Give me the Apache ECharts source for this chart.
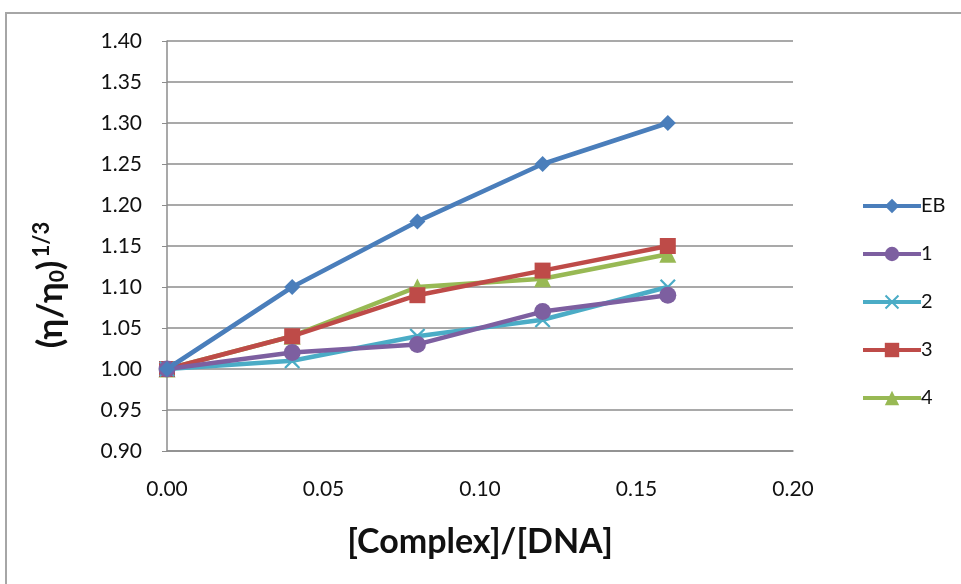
<!DOCTYPE html>
<html>
<head>
<meta charset="utf-8">
<script src="https://cdn.jsdelivr.net/npm/echarts@6/dist/echarts.min.js"></script>
<style>
  html, body { margin: 0; padding: 0; background: #fff; }
  #frame {
    position: absolute; left: 5px; top: 12px; width: 960px; height: 580px;
    border: 2px solid #a6a6a6; box-sizing: border-box;
  }
  #chart { position: absolute; left: 0; top: 0; width: 961px; height: 584px; }
</style>
</head>
<body>
<div id="frame"></div>
<div id="chart"></div>
<script>
// x 值：[Complex]/[DNA]
const ratio = [0.00, 0.04, 0.08, 0.12, 0.16]
// 各系列 (η/η0)^1/3
const seriesNames = ['EB', '1', '2', '3', '4']
const valEB = [1.00, 1.10, 1.18, 1.25, 1.30]
const val1 = [1.00, 1.02, 1.03, 1.07, 1.09]
const val2 = [1.00, 1.01, 1.04, 1.06, 1.10]
const val3 = [1.00, 1.04, 1.09, 1.12, 1.15]
const val4 = [1.00, 1.04, 1.10, 1.11, 1.14]

const colors = ['#4a7ebb', '#7d5fa0', '#4bacc6', '#be4b48', '#98b954']
const symbols = [
  'diamond',
  'circle',
  'path://M0,1 L1,0 L5,4 L9,0 L10,1 L6,5 L10,9 L9,10 L5,6 L1,10 L0,9 L4,5 Z',
  'rect',
  'triangle'
]
const symbolSizes = [16, 17, 16, 16, 17]
const allValues = [valEB, val1, val2, val3, val4]

const chart = echarts.init(document.getElementById('chart'))

const font = 'Lato, "Open Sans", sans-serif'

const option = {
  animation: false,
  backgroundColor: 'transparent',
  grid: { left: 167, right: 168, top: 41, bottom: 133 },
  legend: {
    orient: 'vertical',
    left: 856,
    top: 191,
    itemWidth: 58,
    itemHeight: 18,
    itemGap: 28,
    data: seriesNames,
    lineStyle: { width: 4 },
    textStyle: { fontFamily: font, fontSize: 20, color: '#111', padding: [0, 0, 0, -5] }
  },
  xAxis: {
    type: 'value',
    min: 0,
    max: 0.2,
    interval: 0.05,
    name: '[Complex]/[DNA]',
    nameLocation: 'middle',
    nameGap: 74,
    nameTextStyle: { fontFamily: font, fontSize: 34, fontWeight: 'bold', color: '#111' },
    axisLine: { lineStyle: { color: '#8c8c8c', width: 1.5 } },
    axisTick: { show: false },
    splitLine: { show: false },
    axisLabel: {
      margin: 28,
      fontFamily: font,
      fontSize: 21,
      color: '#111',
      formatter: v => v.toFixed(2)
    }
  },
  yAxis: {
    type: 'value',
    min: 0.9,
    max: 1.4,
    interval: 0.05,
    name: '{a|(η/η}{s|0}{a|)}{p|1/3}',
    nameLocation: 'middle',
    nameGap: 96,
    nameRotate: 90,
    nameTextStyle: {
      padding: [0, 78, 0, 0],
      rich: {
        a: { fontFamily: font, fontSize: 35, fontWeight: 'bold', color: '#111' },
        s: { fontFamily: font, fontSize: 21, fontWeight: 'bold', color: '#111', padding: [13, 0, 0, 0] },
        p: { fontFamily: font, fontSize: 22, fontWeight: 'bold', color: '#111', padding: [0, 0, 18, 3] }
      }
    },
    axisLine: { show: true, lineStyle: { color: '#8c8c8c', width: 1.5 } },
    axisTick: { show: true, length: 5, lineStyle: { color: '#8c8c8c' } },
    splitLine: { lineStyle: { color: '#8c8c8c', width: 1.5 } },
    axisLabel: {
      margin: 25,
      fontFamily: font,
      fontSize: 21,
      color: '#111',
      formatter: v => v.toFixed(2)
    }
  },
  series: seriesNames.map((name, i) => ({
    name: name,
    type: 'line',
    data: ratio.map((x, j) => [x, allValues[i][j]]),
    symbol: symbols[i],
    symbolSize: symbolSizes[i],
    showSymbol: true,
    itemStyle: { color: colors[i] },
    lineStyle: { color: colors[i], width: 4.5 },
    z: 10 - i
  }))
}

chart.setOption(option)
</script>
</body>
</html>
